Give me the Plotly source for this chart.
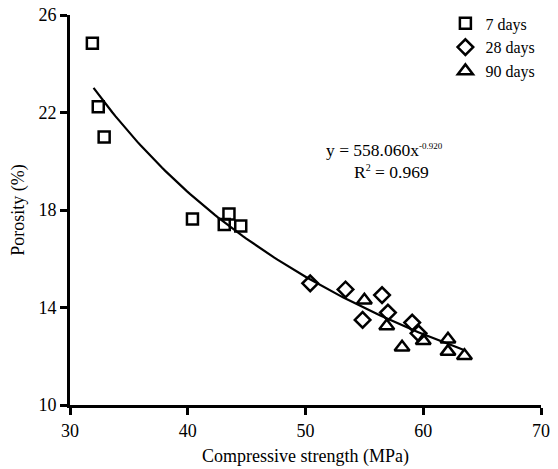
import numpy as np
import plotly.graph_objects as go

# Compressive strength (MPa) and porosity (%) by curing age
x_7d = [31.9, 32.4, 32.9, 40.4, 43.1, 43.5, 44.5]
y_7d = [24.84, 22.24, 21.0, 17.63, 17.41, 17.84, 17.34]

x_28d = [50.4, 53.4, 54.85, 56.5, 57.0, 59.06, 59.6]
y_28d = [14.99, 14.74, 13.49, 14.51, 13.79, 13.38, 12.94]

x_90d = [55.0, 56.9, 58.2, 60.0, 62.1, 62.1, 63.5]
y_90d = [14.3, 13.24, 12.37, 12.64, 12.7, 12.19, 12.02]

# Power-law fit y = a * x^b
fit_a = 558.060
fit_b = -0.920
fit_r2 = 0.969
fit_x = np.linspace(32.0, 63.5, 120)
fit_y = fit_a * fit_x ** fit_b

x_ticks = [30, 40, 50, 60, 70]
y_ticks = [10, 14, 18, 22, 26]

FONT = "Liberation Serif"
ink = "black"

fig = go.Figure()

fig.add_trace(go.Scatter(
    x=fit_x, y=fit_y, mode="lines",
    line=dict(color=ink, width=2.2), showlegend=False, hoverinfo="skip"))

marker_line = dict(color=ink, width=2.5)
fig.add_trace(go.Scatter(
    x=x_7d, y=y_7d, mode="markers", name="7 days",
    marker=dict(symbol="square-open", size=11, color=ink, line=marker_line)))
fig.add_trace(go.Scatter(
    x=x_28d, y=y_28d, mode="markers", name="28 days",
    marker=dict(symbol="diamond-open", size=12, color=ink, line=marker_line)))
fig.add_trace(go.Scatter(
    x=x_90d, y=y_90d, mode="markers", name="90 days",
    marker=dict(symbol="triangle-up-open", size=13, color=ink, line=marker_line)))

fig.add_annotation(
    x=(384 - 70) / 471, y=(405 - 150) / 390, xref="paper", yref="paper",
    xanchor="center", yanchor="middle",
    text=f"y = {fit_a:.3f}x<sup><span style='font-size:9px'>{fit_b:.3f}</span></sup>",
    showarrow=False, font=dict(family=FONT, size=17.5, color=ink))
fig.add_annotation(
    x=(391 - 70) / 471, y=(405 - 172) / 390, xref="paper", yref="paper",
    xanchor="center", yanchor="middle",
    text=f"R<sup><span style='font-size:10px'>2</span></sup> = {fit_r2:.3f}",
    showarrow=False, font=dict(family=FONT, size=17.5, color=ink))

axis_common = dict(
    showgrid=False, zeroline=False, showline=True, linecolor=ink, linewidth=2.8,
    ticks="outside", ticklen=7, tickwidth=2.5, tickcolor=ink, automargin=False,
    tickfont=dict(family=FONT, size=18, color=ink),
    title_font=dict(family=FONT, size=18, color=ink))

fig.update_xaxes(range=[30, 70], tickvals=x_ticks, title_text="Compressive strength (MPa)",
                 title_standoff=10, **axis_common)
fig.update_yaxes(range=[10, 26], tickvals=y_ticks, title_text="Porosity (%)",
                 title_standoff=10, **axis_common)

fig.update_layout(
    width=558, height=469,
    margin=dict(l=70, r=17, t=15, b=64, autoexpand=False),
    plot_bgcolor="white", paper_bgcolor="white",
    font=dict(family=FONT, size=16, color=ink),
    legend=dict(x=0.797, y=1.022, xanchor="left", yanchor="top",
                bgcolor="rgba(0,0,0,0)", font=dict(family=FONT, size=16, color=ink),
                itemwidth=30, tracegroupgap=0),
)

fig.write_html("out.html")
